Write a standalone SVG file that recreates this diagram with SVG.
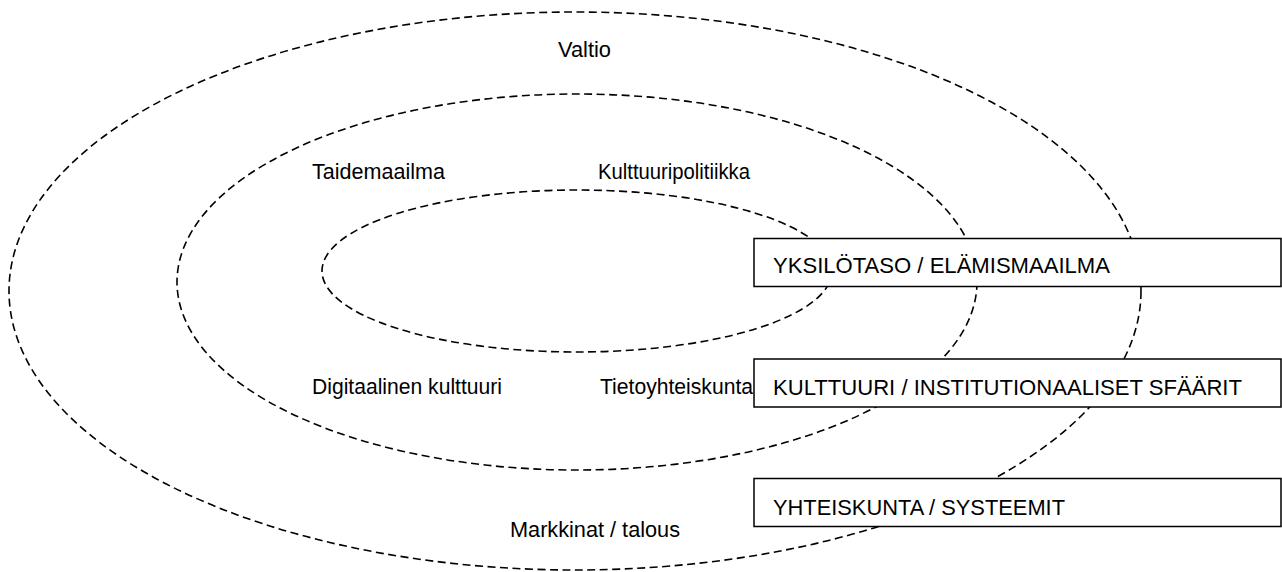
<svg xmlns="http://www.w3.org/2000/svg" width="1282" height="572" viewBox="0 0 1282 572">
<style>
.ring{fill:none;stroke:#000;stroke-width:1.6;stroke-dasharray:8 4.5}
.lbl{font-family:"Liberation Sans",Arial,sans-serif;font-size:22px;fill:#000}
.box{fill:#fff;stroke:#000;stroke-width:1.5}
.btxt{font-family:"Liberation Sans",Arial,sans-serif;font-size:22px;fill:#000}
</style>
<rect width="1282" height="572" fill="#fff"/>
<g id="rings">
<ellipse id="outer" class="ring" cx="575" cy="291" rx="566" ry="279"/>
<ellipse id="middle" class="ring" cx="577" cy="282" rx="400" ry="188"/>
<ellipse id="inner" class="ring" cx="577" cy="271" rx="255" ry="81"/>
</g>
<g id="labels">
<text class="lbl" x="558" y="57" textLength="53" lengthAdjust="spacingAndGlyphs">Valtio</text>
<text class="lbl" x="312" y="179" textLength="133" lengthAdjust="spacingAndGlyphs">Taidemaailma</text>
<text class="lbl" x="598" y="179" textLength="152" lengthAdjust="spacingAndGlyphs">Kulttuuripolitiikka</text>
<text class="lbl" x="312" y="394" textLength="190" lengthAdjust="spacingAndGlyphs">Digitaalinen kulttuuri</text>
<text class="lbl" x="600" y="394" textLength="153" lengthAdjust="spacingAndGlyphs">Tietoyhteiskunta</text>
<text class="lbl" x="510" y="537" textLength="170" lengthAdjust="spacingAndGlyphs">Markkinat / talous</text>
</g>
<g id="box-yksilo">
<rect class="box" x="754" y="238.5" width="527" height="48"/>
<text class="btxt" x="773" y="273" textLength="337" lengthAdjust="spacingAndGlyphs">YKSILÖTASO / ELÄMISMAAILMA</text>
</g>
<g id="box-kulttuuri">
<rect class="box" x="754" y="359" width="527" height="48"/>
<text class="btxt" x="773" y="395" textLength="469" lengthAdjust="spacingAndGlyphs">KULTTUURI / INSTITUTIONAALISET SFÄÄRIT</text>
</g>
<g id="box-yhteiskunta">
<rect class="box" x="754" y="478.5" width="527" height="48"/>
<text class="btxt" x="773" y="515" textLength="292" lengthAdjust="spacingAndGlyphs">YHTEISKUNTA / SYSTEEMIT</text>
</g>
</svg>
